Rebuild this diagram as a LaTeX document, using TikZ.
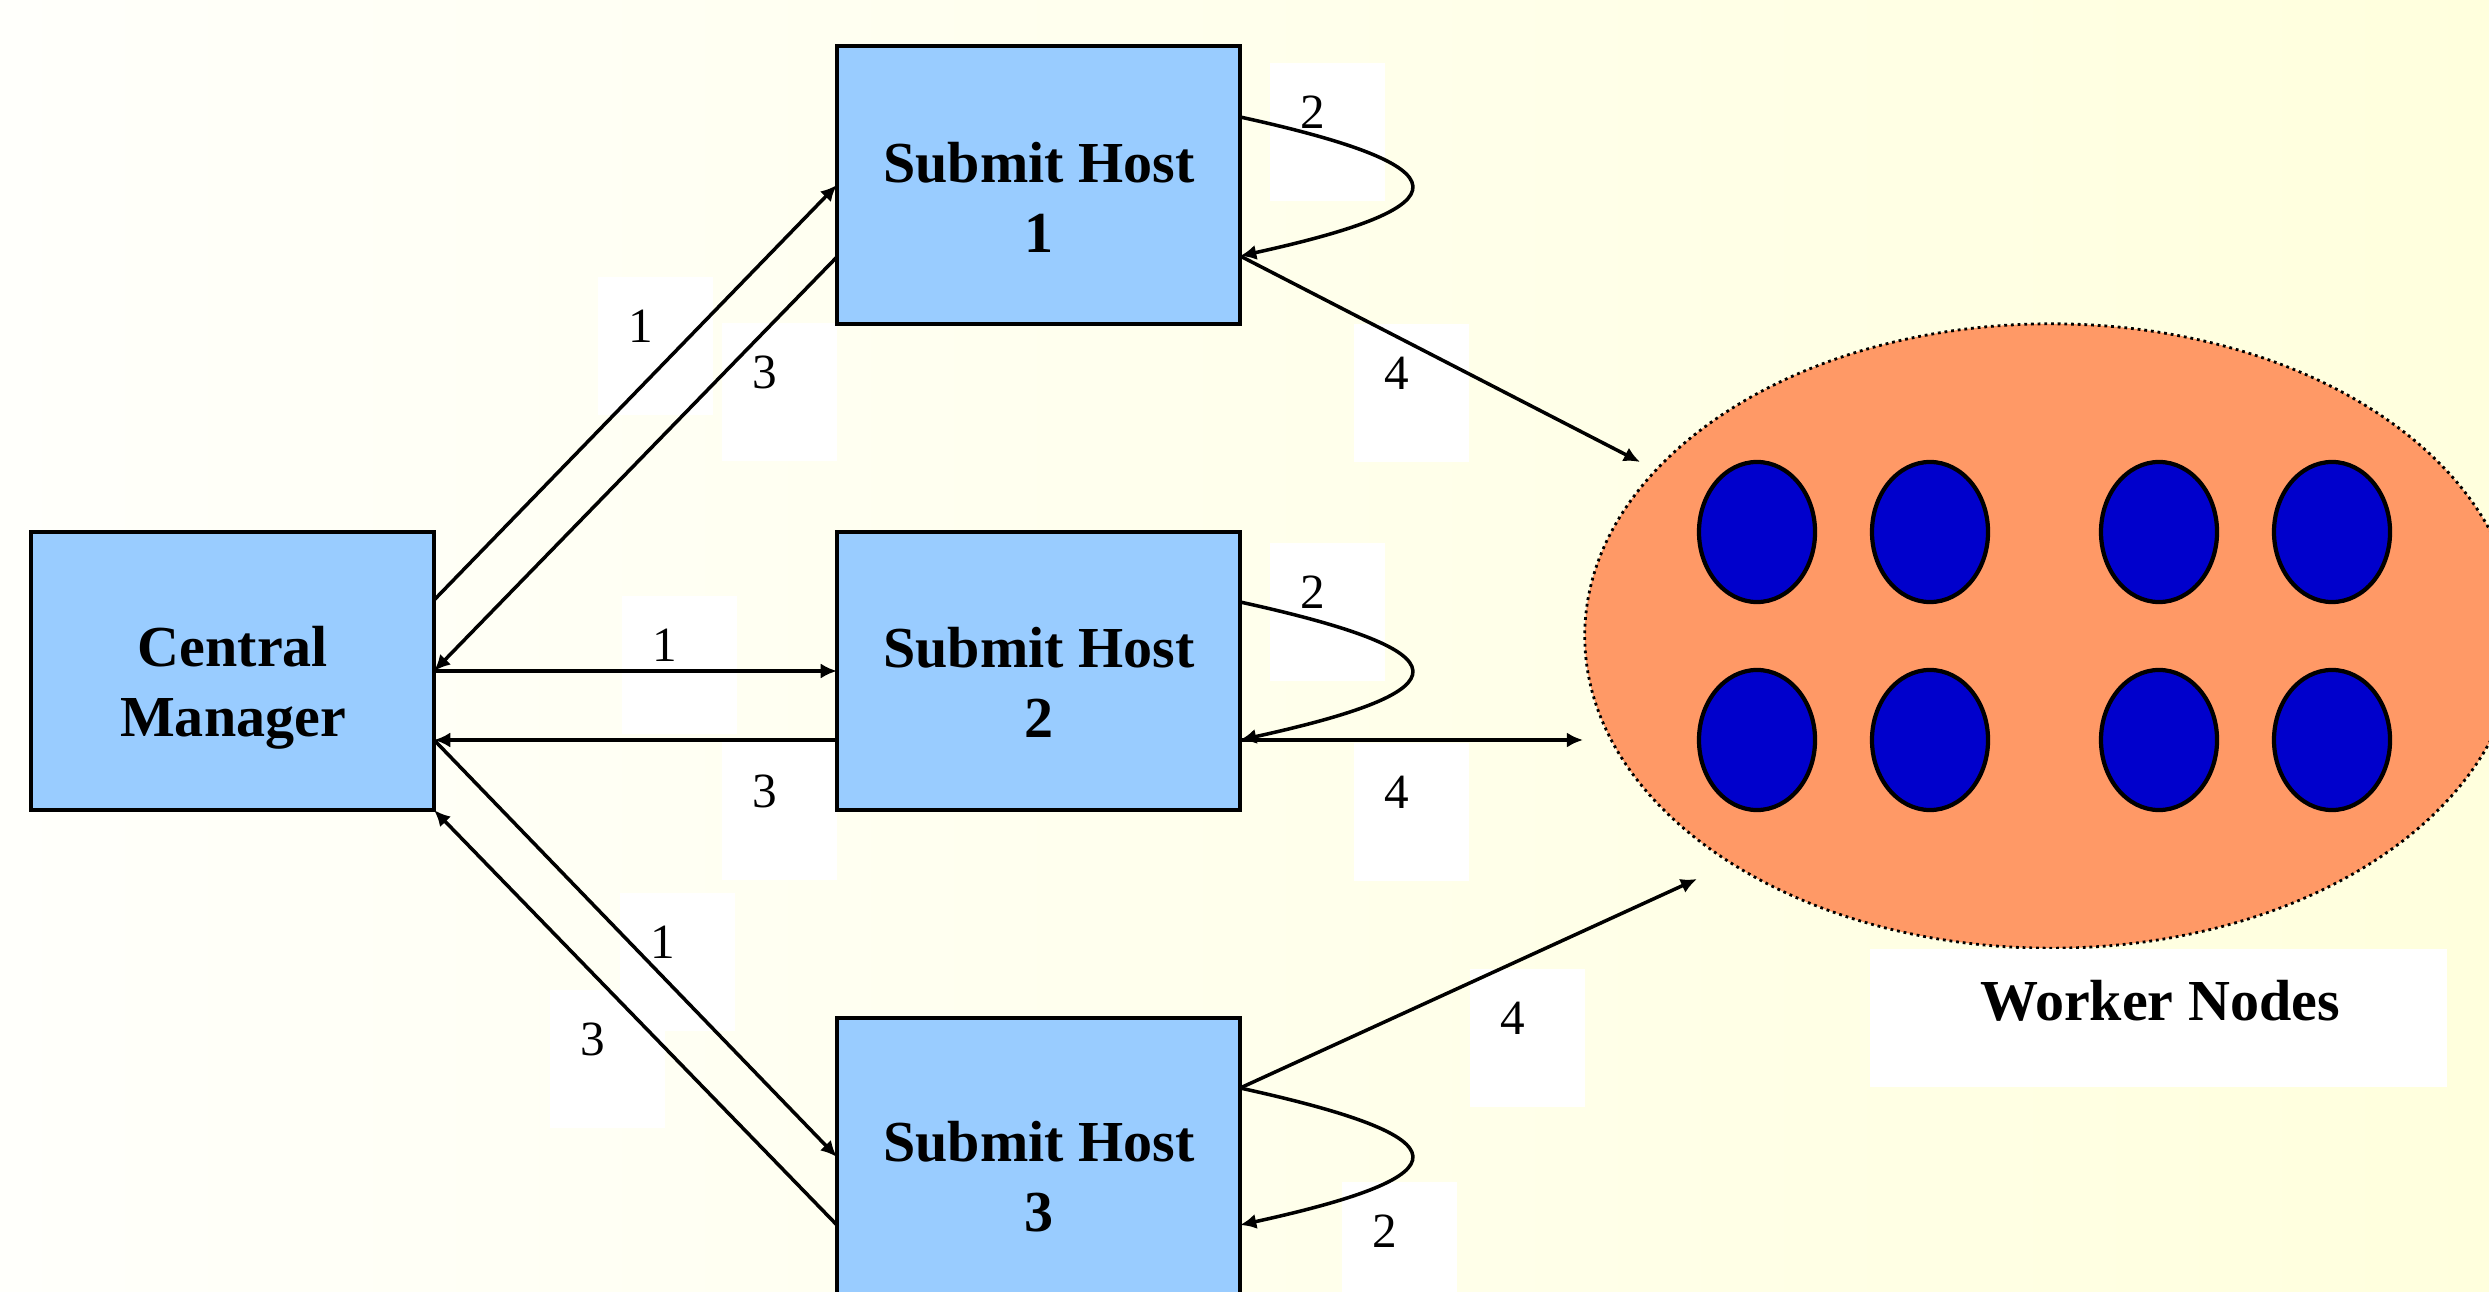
\documentclass[tikz,border=0pt]{standalone}
\usepackage{fontspec}
\setmainfont{Liberation Serif}
\usetikzlibrary{arrows.meta,shapes.geometric,calc}
\definecolor{boxblue}{HTML}{99CCFF}
\definecolor{poolorange}{HTML}{FF9966}
\definecolor{nodeblue}{HTML}{0000CC}
\definecolor{bgleft}{RGB}{255,255,251}
\definecolor{bgright}{RGB}{255,255,221}
\begin{document}
\begin{tikzpicture}[x=0.01cm,y=-0.01cm,
  hostbox/.style={draw=black, line width=1.3pt, fill=boxblue, minimum width=4.03cm, minimum height=2.78cm, inner sep=0pt, outer sep=0pt},
  boxtext/.style={font=\fontsize{16.5}{19.9}\selectfont\bfseries, align=center, inner sep=0pt},
  numlabel/.style={fill=white, anchor=north west, font=\fontsize{14}{16}\selectfont, inner xsep=0.307cm, inner ysep=0.2cm, text width=0.536cm, align=left, text height=0.455cm, text depth=0.525cm, outer sep=0pt},
  conn/.style={line width=1pt, -{Latex[length=4.6pt,width=4.3pt]}},
  worker/.style={ellipse, draw=black, line width=1.2pt, fill=nodeblue, minimum width=1.16cm, minimum height=1.4cm, inner sep=0pt},
  pool/.style={ellipse, fill=poolorange, draw=black, line width=0.8pt, dash pattern=on 0.8pt off 1.1pt, minimum width=9.32cm, minimum height=6.24cm, inner sep=0pt}
]
\useasboundingbox (0,0) rectangle (2489,1292);
\clip (0,0) rectangle (2489,1292);
\shade[left color=bgleft, right color=bgright] (0,0) rectangle (2489,1292);

% worker pool
\node[pool] (pool) at (2051,636) {};
\node[worker] (w1) at (1757,532) {};
\node[worker] (w2) at (1930,532) {};
\node[worker] (w3) at (2159,532) {};
\node[worker] (w4) at (2332,532) {};
\node[worker] (w5) at (1757,740) {};
\node[worker] (w6) at (1930,740) {};
\node[worker] (w7) at (2159,740) {};
\node[worker] (w8) at (2332,740) {};

% number labels
\node[numlabel] (l1a) at (598,277) {1};
\node[numlabel] (l3a) at (722,323) {3};
\node[numlabel] (l1b) at (622,596) {1};
\node[numlabel] (l3b) at (722,742) {3};
\node[numlabel] (l1c) at (620,893) {1};
\node[numlabel] (l3c) at (550,990) {3};
\node[numlabel] (l2a) at (1270,63) {2};
\node[numlabel] (l4a) at (1354,324) {4};
\node[numlabel] (l2b) at (1270,543) {2};
\node[numlabel] (l4b) at (1354,743) {4};
\node[numlabel] (l4c) at (1470,969) {4};
\node[numlabel] (l2c) at (1342,1182) {2};

% hosts
\node[hostbox] (cm) at (232.5,671) {};
\node[hostbox] (sh1) at (1038.5,185) {};
\node[hostbox] (sh2) at (1038.5,671) {};
\node[hostbox] (sh3) at (1038.5,1157) {};
\node[boxtext] (cmt) at (233,688) {Central\\Manager};
\node[boxtext] (sh1t) at (1039,197) {Submit Host\\1};
\node[boxtext] (sh2t) at (1039,682) {Submit Host\\2};
\node[boxtext] (sh3t) at (1039,1177) {Submit Host\\3};

% worker nodes caption
\node[fill=white, minimum width=5.77cm, minimum height=1.38cm, inner sep=0pt] (wnbox) at (2158.5,1018) {};
\node[anchor=base, font=\fontsize{16.5}{19.9}\selectfont\bfseries, inner sep=0pt] (wnt) at (2160,1020) {Worker Nodes};

% connectors central manager <-> submit hosts
\draw[conn] ($(cm.east)+(0,-71)$) -- (sh1.west);
\draw[conn] ($(sh1.west)+(0,72)$) -- (cm.east);
\draw[conn] (cm.east) -- (sh2.west);
\draw[conn] ($(sh2.west)+(0,69)$) -- ($(cm.east)+(0,69)$);
\draw[conn] ($(cm.east)+(0,69)$) -- (sh3.west);
\draw[conn] ($(sh3.west)+(0,68)$) -- (cm.south east);

% self loops
\draw[conn] ($(sh1.east)+(0,-68)$) .. controls +(228,50) and +(228,-50) .. ($(sh1.east)+(0,71)$);
\draw[conn] ($(sh2.east)+(0,-69)$) .. controls +(228,50) and +(228,-50) .. ($(sh2.east)+(0,69)$);
\draw[conn] ($(sh3.east)+(0,-69)$) .. controls +(228,50) and +(228,-50) .. ($(sh3.east)+(0,68)$);

% to worker pool
\coordinate (e1) at (1640,462);
\coordinate (e2) at (1583,740);
\coordinate (e3) at (1697,879);
\draw[conn] ($(sh1.east)+(0,71)$) -- (e1);
\draw[conn] ($(sh2.east)+(0,69)$) -- (e2);
\draw[conn] ($(sh3.east)+(0,-69)$) -- (e3);
\end{tikzpicture}
\end{document}
